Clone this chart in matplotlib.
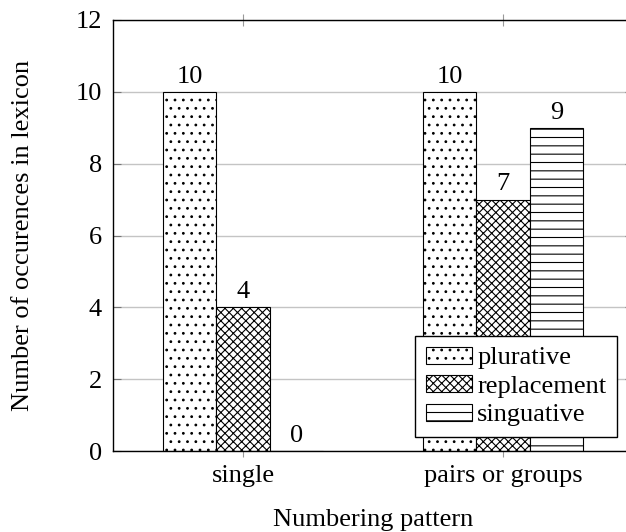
import numpy as np
import matplotlib
matplotlib.use("Agg")
import matplotlib.pyplot as plt

# values
groups = ["single", "pairs or groups"]
series = ["plurative", "replacement", "singuative"]
plurative = [10, 10]
replacement = [4, 7]
singuative = [0, 9]
hatches = ["..", "xxxx", "--"]

plt.rcParams['font.family'] = ['Liberation Serif', 'DejaVu Serif']
plt.rcParams['font.size'] = 19
plt.rcParams['hatch.linewidth'] = 0.8

fig = plt.figure(figsize=(6.26, 5.32), dpi=100)
ax = fig.add_axes([113/626, 81/532, 520/626, 431/532])

x = np.arange(len(groups))
w = 0.205
for i, (name, vals) in enumerate(zip(series, [plurative, replacement, singuative])):
    bars = ax.bar(x + (i - 1) * w, vals, w, label=name, color='white',
                  edgecolor='black', linewidth=0.8, hatch=hatches[i], zorder=2)
    ax.bar_label(bars, padding=3)

ax.set_xlim(-0.5, 1.5)
ax.set_ylim(0, 12)
ax.set_yticks(range(0, 13, 2))
ax.set_xticks(x)
ax.set_xticklabels(groups)
ax.grid(axis='y', color='#c4c4c4', linewidth=1, zorder=0)
ax.set_axisbelow(True)
for s in ax.spines.values():
    s.set_linewidth(1)

ax.tick_params(axis='y', direction='in', length=6, color='#777777', pad=8, right=True)
ax.tick_params(axis='x', direction='inout', length=8, color='#999999', pad=6, top=True)

ax.set_ylabel("Number of occurences in lexicon", va='center')
ax.yaxis.set_label_coords(-0.173, 0.5)
ax.set_xlabel("Numbering pattern", va='baseline')
ax.xaxis.set_label_coords(0.5, -0.174)

leg = ax.legend(loc='lower right', bbox_to_anchor=(617/626, 95/532),
                bbox_transform=fig.transFigure, borderaxespad=0,
                fancybox=False, framealpha=1, edgecolor='black',
                handlelength=1.75, handleheight=0.6, handletextpad=0.2,
                labelspacing=0.22, borderpad=0.4)
leg.get_frame().set_linewidth(1)

fig.savefig("out.png", dpi=100)
